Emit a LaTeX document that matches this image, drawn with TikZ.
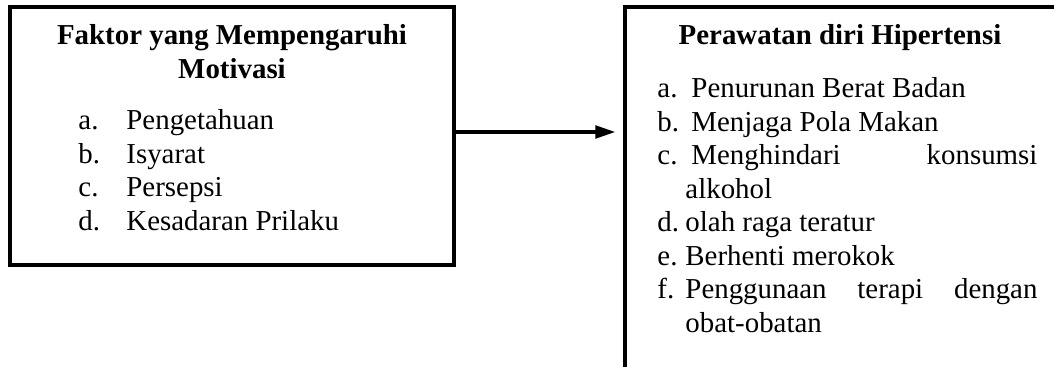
\documentclass[tikz,border=0pt]{standalone}
\usepackage{fontspec}
\setmainfont{Liberation Serif}
\usetikzlibrary{arrows.meta}

\hyphenpenalty=10000
\tolerance=10000
% satu butir daftar: lebar label, label
\newcommand{\butir}[2]{\noindent\hangindent=12.6pt\hangafter=1\makebox[#1][l]{#2}}

\begin{document}
\begin{tikzpicture}[x=0.45pt, y=-0.45pt,
    font=\fontsize{13}{15.1}\selectfont,
    kotak/.style={draw, line width=1.4pt, rectangle, inner sep=0pt},
    teks/.style={inner sep=0pt},
    judul/.style={teks, font=\fontsize{13}{15.1}\selectfont\bfseries, align=center, anchor=base},
    panah/.style={line width=1.6pt, -{Triangle[length=9pt, width=5.6pt]}, shorten >=3.6pt}]
    % batas gambar
    \clip (0,0) rectangle (1054,367);

    % kotak kiri dan kotak kanan
    \node[kotak, minimum width=199.8pt, minimum height=116.1pt] (faktor) at (232,136) {};
    \node[kotak, minimum width=213.75pt, minimum height=185.85pt] (rawat) at (862.5,213.5) {};

    % isi kotak kiri (base = baris terakhir)
    \node[judul] (judulFaktor) at (232,78.5) {Faktor yang Mempengaruhi\\Motivasi};
    \node[teks, anchor=base west, align=left] (daftarFaktor) at (78,230.5)
        {\makebox[21.6pt][l]{a.}Pengetahuan\\
         \makebox[21.6pt][l]{b.}Isyarat\\
         \makebox[21.6pt][l]{c.}Persepsi\\
         \makebox[21.6pt][l]{d.}Kesadaran Prilaku};

    % isi kotak kanan (base = baris pertama)
    \node[judul] (judulRawat) at (840,45) {Perawatan diri Hipertensi};
    \node[teks, anchor=base west, text width=171pt, align=justify] (daftarRawat) at (657,97.5)
        {\butir{15.3pt}{a.}Penurunan Berat Badan\par
         \butir{15.3pt}{b.}Menjaga Pola Makan\par
         \butir{15.3pt}{c.}Menghindari konsumsi alkohol\par
         \butir{12.6pt}{d.}olah raga teratur\par
         \butir{12.6pt}{e.}Berhenti merokok\par
         \butir{12.6pt}{f.}Penggunaan terapi dengan obat-obatan\par};

    % panah dari kotak kiri ke kotak kanan
    \coordinate (pangkal) at ([yshift=1.8pt]faktor.east);
    \draw[panah] (pangkal) -- (pangkal -| rawat.west);
\end{tikzpicture}
\end{document}
